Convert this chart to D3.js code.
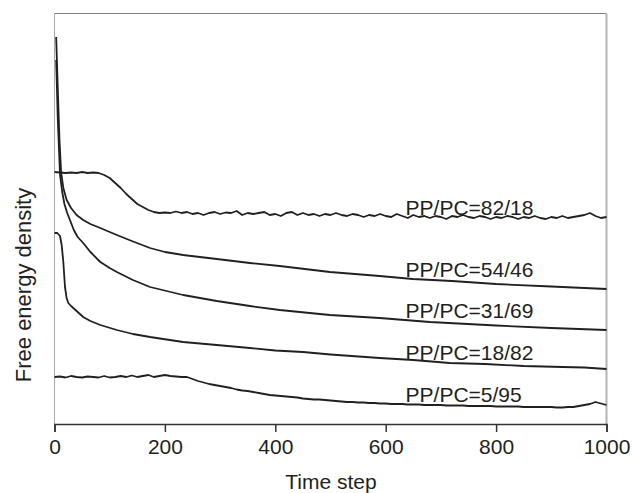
<!DOCTYPE html>
<html>
<head>
<meta charset="utf-8">
<script src="https://cdn.jsdelivr.net/npm/d3@7"></script>
<style>
  body { margin: 0; background: #fff; }
  svg { display: block; font-family: "Liberation Sans", Arial, sans-serif; }
  .curve { fill: none; stroke: #231f20; stroke-width: 1.8; stroke-linejoin: round; }
  .lbl { font-size: 21px; fill: #231f20; }
</style>
</head>
<body>
<svg id="chart" width="632" height="493"></svg>
<script>
// series names (PP/PC ratio)
var seriesNames = ['PP/PC=82/18', 'PP/PC=54/46', 'PP/PC=31/69', 'PP/PC=18/82', 'PP/PC=5/95'];

// noisy series sampled every 10 steps
var gridSteps = [0,10,20,30,40,50,60,70,80,90,100,110,120,130,140,150,160,170,180,190,200,
  210,220,230,240,250,260,270,280,290,300,310,320,330,340,350,360,370,380,390,400,
  410,420,430,440,450,460,470,480,490,500,510,520,530,540,550,560,570,580,590,600,
  610,620,630,640,650,660,670,680,690,700,710,720,730,740,750,760,770,780,790,800,
  810,820,830,840,850,860,870,880,890,900,910,920,930,940,950,960,970,980,990,1000];

var energy82 = [252,251.5,251,251.5,251,252,251,251.5,251,249,246,241,236,230,225,220,217,214,212,211,211.5,
  211,212.5,211,212,210,211,209,211,212,210,211.5,211,213,209,211,210,211,212,209,210,
  208,211,212,209,211,209,210,208,210,209,211,209,208,210,209,207,209,208,210,208,
  207,210,208,206,209,207,208,206,208,207,205,208,207,209,207,206,208,207,205,207,
  206,208,207,205,207,206,208,206,205,207,206,208,206,207,208,209,211,208,206,207];

var energy5 = [47,47.5,46.5,48,47,46.5,47.5,47,46.5,48,46.5,47,48,47,48.5,47,48,49,47,48,49,
  48,47.5,47,47,45,43,41.5,40,39,38,37,36,34.5,33.5,33,32,31,30,29,28.5,
  28,27.5,27,26.5,25.5,25,24.5,24.5,24,23.5,23,22.5,22,22,21.5,21.5,21,21,20.5,20.5,
  20,20,20,19.5,19.5,19.5,19,19,19,19,18.5,18.5,18.5,18.5,18,18,18,18,18,17.5,
  17.5,17.5,17.5,17.5,17,17,17,17,17,17,16.5,16.5,17,17,18,19,20,22,20.5,19];

// smooth series, own time steps
var steps54 = [3,6,9,12,16,22,30,40,52,65,83,100,113,140,173,200,233,294,354,408,499,589,649,720,800,900,1000];
var energy54 = [387,334,284,252,236,224,216,209,204,200,196,192,189,183,176,172,169,165,161,158,152,148,145,143,140,137.5,135];

var steps31 = [3,6,10,14,18,23,28,35,42,52,65,83,100,113,142,173,233,294,354,408,499,589,680,800,900,1000];
var energy31 = [364,304,249,232,220,211,204,194,187,181,172,162,156,152,144,137,129,123,118,114,109,106,102,98.5,96,94];

var steps18 = [0,5,10,13,16,19,22,25,30,34,42,52,65,83,113,142,173,233,294,354,400,450,500,589,650,716,780,850,920,960,1000];
var energy18 = [191,191,188,179,162,137,126,121,118,116,112,107,103,99,94,90,87,82,79,76,73.5,72,69.5,66,64,61,60,58,57,56.5,55];

var xTicks = [0, 200, 400, 600, 800, 1000];

var series = [
  { name: seriesNames[0], t: gridSteps, v: energy82 },
  { name: seriesNames[1], t: steps54, v: energy54 },
  { name: seriesNames[2], t: steps31, v: energy31 },
  { name: seriesNames[3], t: steps18, v: energy18 },
  { name: seriesNames[4], t: gridSteps, v: energy5 }
];

var svg = d3.select('#chart');

var x = d3.scaleLinear().domain([0, 1000]).range([54.5, 606.5]);
var y = d3.scaleLinear().domain([0, 410]).range([424, 14]);

// frame
svg.append('line').attr('x1', 54.5).attr('x2', 606.5).attr('y1', 13.5).attr('y2', 13.5)
  .attr('stroke', '#808080').attr('stroke-width', 1.2);
svg.append('line').attr('x1', 54.5).attr('x2', 54.5).attr('y1', 13.5).attr('y2', 424)
  .attr('stroke', '#a8a8a8').attr('stroke-width', 1);
svg.append('line').attr('x1', 606.5).attr('x2', 606.5).attr('y1', 13.5).attr('y2', 424)
  .attr('stroke', '#b4b4b4').attr('stroke-width', 2);

// x axis
var xAxisG = svg.append('g').attr('transform', 'translate(0,424)');
xAxisG.call(d3.axisBottom(x).tickValues(d3.range(0, 1001, 100)).tickSize(5).tickFormat(''));
xAxisG.call(d3.axisBottom(x).tickValues(xTicks).tickSize(8).tickPadding(7).tickFormat(d3.format('d')));
xAxisG.selectAll('.domain').attr('stroke', '#333').attr('stroke-width', 1.5);
xAxisG.selectAll('.tick line').attr('stroke', '#333').attr('stroke-width', 1.5);
xAxisG.selectAll('.tick text')
  .style('font-family', '"Liberation Sans", Arial, sans-serif')
  .style('font-size', '21px').attr('fill', '#231f20');

// curves
var line = d3.line()
  .x(function(d) { return x(d[0]); })
  .y(function(d) { return y(d[1]); });

svg.selectAll('.curve')
  .data(series)
  .enter().append('path')
  .attr('class', 'curve')
  .attr('d', function(s) { return line(d3.zip(s.t, s.v)); });

// curve labels
var labelAt = [[636, 209], [636, 147], [636, 106], [636, 64], [636, 22]];
svg.selectAll('.lbl')
  .data(series)
  .enter().append('text')
  .attr('class', 'lbl')
  .attr('x', function(d, i) { return x(labelAt[i][0]); })
  .attr('y', function(d, i) { return y(labelAt[i][1]); })
  .text(function(d) { return d.name; });

// axis titles
svg.append('text')
  .attr('x', 331).attr('y', 489)
  .attr('text-anchor', 'middle')
  .style('font-size', '21px').attr('fill', '#231f20')
  .text('Time step');

svg.append('text')
  .attr('transform', 'translate(31,285) rotate(-90)')
  .attr('text-anchor', 'middle')
  .style('font-size', '22px').attr('fill', '#231f20')
  .text('Free energy density');
</script>
</body>
</html>
